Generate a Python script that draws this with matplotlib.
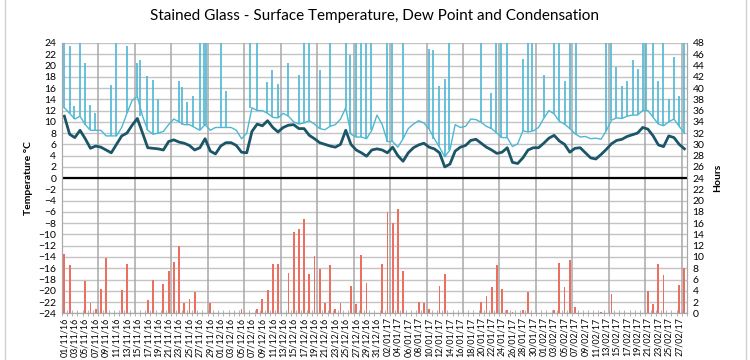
import numpy as np
import pandas as pd
import matplotlib
matplotlib.use("Agg")
import matplotlib.pyplot as plt

plt.rcParams['font.family'] = ['Lato', 'DejaVu Sans']

# =====================================================
# DATA
# =====================================================

dates = pd.date_range("2016-11-01", "2017-02-28", freq="D")

# surface temperature between the spikes, one value per day (deg C)
surface_base = [
    12.5, 11.5, 10.5, 11, 9.5, 8.5, 8.5, 8.5, 7.5, 7.5,
    7.5, 9, 11.5, 13.8, 14.5, 11, 8.5, 7.8, 8, 8.3,
    9.5, 10.5, 10, 9.5, 9.5, 9, 8.5, 9.5, 8.5, 9,
    9, 9, 9, 8.5, 7, 8, 12.5, 12, 12, 11.5,
    10.8, 10.7, 11.5, 11, 10, 9.6, 9.8, 10.2, 9.6, 8.8,
    8.6, 9.2, 9.5, 10.5, 12.5, 7.8, 7.3, 7.3, 7, 8.5,
    11.2, 9.5, 6.5, 6.5, 5.5, 7, 8.8, 9.6, 10.2, 9.8,
    8.7, 7, 5.5, 3.8, 5, 9.5, 9, 9.2, 10.5, 10.4,
    9.9, 9.2, 8.8, 8, 7.2, 7.2, 5.6, 6.1, 8.4, 8.2,
    8.4, 9, 10.6, 12, 11.4, 10.1, 9.6, 8.8, 7.9, 7.3,
    7.4, 7, 7.1, 6.9, 8.4, 10.3, 10.7, 10.6, 11, 11.2,
    11.2, 12, 12, 10.8, 9.6, 9.3, 10, 10.5, 9.2, 8,
]

# surface temperature spikes (day offset from 01/11/16, deg C); 40 = off scale
spike_day = [
    0.5, 1.5, 2.4, 3.5, 4.5, 5.4, 6.4, 9.5, 10.4, 12.5,
    14.5, 15.0, 16.3, 17.6, 18.5, 22.4, 23.0, 24.0, 25.2, 26.5,
    27.2, 27.7, 30.5, 31.6, 36.2, 37.4, 39.3, 40.4, 41.5, 43.4,
    45.5, 46.5, 47.5, 49.5, 51.4, 54.5, 55.4, 56.4, 57.5, 58.4,
    59.4, 62.4, 63.4, 65.5, 70.5, 71.2, 72.4, 73.5, 74.4, 80.5,
    82.4, 83.4, 84.3, 85.5, 88.5, 89.4, 90.3, 92.6, 94.5, 95.5,
    96.5, 97.6, 98.6, 104.5, 105.4, 106.4, 107.5, 108.5, 109.6, 110.6,
    111.5, 112.1, 113.5, 114.5, 115.4, 116.5, 117.5, 118.5, 119.5,
]
spike_temp = [
    40, 23.5, 12.8, 40, 20.4, 12.9, 11.5, 16.5, 40, 23.4,
    20.5, 21, 18.2, 17.5, 14, 17.3, 16.2, 13.5, 14.5, 40,
    40, 40, 40, 15.5, 40, 40, 17, 19.2, 16.7, 20.5,
    18.3, 40, 40, 19.2, 40, 40, 21.8, 40, 40, 40,
    40, 40, 40, 40, 23, 22.7, 16.4, 17.6, 40, 40,
    15.2, 40, 40, 40, 21.2, 40, 40, 18.3, 40, 40,
    17.3, 40, 40, 40, 40, 19.7, 16.4, 17.3, 21, 19.4,
    40, 40, 40, 17.3, 40, 14, 21.6, 14.6, 40,
]

# dew point, one value per day (deg C)
dew_point = [
    11, 7.8, 7.2, 8.5, 7, 5.3, 5.7, 5.5, 5, 4.5,
    6, 7.5, 8, 9.4, 10.6, 8, 5.4, 5.3, 5.2, 5,
    6.5, 6.8, 6.4, 6.2, 5.8, 5, 5.4, 7, 4.8, 4.3,
    5.7, 6.3, 6.3, 5.8, 4.6, 4.5, 8.3, 9.6, 9.3, 10.2,
    9, 8.2, 9, 9.4, 9.5, 8.8, 8.8, 7.6, 7, 6.3,
    6, 5.7, 5.5, 6, 8.5, 6, 5, 4.5, 3.9, 5,
    5.2, 5, 4.5, 5.5, 4, 3, 4.5, 5.4, 5.9, 6.2,
    5.5, 5.2, 4.5, 2, 2.5, 4.8, 5.5, 5.8, 6.7, 6.9,
    6.2, 5.5, 5, 4.4, 4.6, 5.4, 2.8, 2.6, 3.6, 5,
    5.4, 5.4, 6.2, 7.1, 7.6, 6.6, 6, 4.6, 5.3, 5.4,
    4.5, 3.6, 3.4, 4.2, 5.1, 6.1, 6.7, 6.9, 7.4, 7.7,
    8, 9, 8.7, 7.5, 5.9, 5.6, 7.5, 7.2, 6, 5.2,
]

# hours of condensation per day (right axis)
condensation_hours = [
    10.5, 8.5, 0, 0, 5.7, 1.8, 0.7, 4.3, 9.8, 0,
    0, 4.1, 8.8, 0, 0, 0, 2.3, 5.9, 0, 5.2,
    7.5, 9.1, 12, 1.8, 2.6, 3.8, 0, 0, 1.8, 0,
    0, 0, 0, 0, 0.7, 0, 0, 0.7, 2.6, 4.1,
    8.8, 8.8, 0, 7.2, 14.5, 14.9, 16.7, 7.0, 10.2, 7.8,
    1.8, 8.5, 0.7, 1.8, 0, 4.8, 1.6, 10.4, 5.3, 0,
    0, 8.8, 18, 16, 18.6, 7.5, 0, 0, 2.0, 1.8,
    0.8, 0, 4.8, 7.0, 0, 0, 0, 0, 0, 0,
    2.0, 3.0, 4.6, 8.5, 4.3, 0.5, 0.3, 0, 0.5, 3.7,
    0, 0, 0, 0, 0.5, 9.0, 4.6, 9.4, 1.1, 0,
    0, 0, 0, 0.3, 0, 3.5, 0, 0, 0, 0,
    0, 0, 4.0, 1.6, 8.7, 6.8, 0, 0, 5.0, 8.1,
]

# =====================================================
# BUILD SERIES
# =====================================================

days = np.arange(len(dates))
base = pd.Series(surface_base, index=days)

# each spike rises from that day's base level
spike_from = base.reindex(np.floor(spike_day).astype(int)).values

tick_pos = days[::2] + 0.5
tick_lab = dates[::2].strftime("%d/%m/%y")

# =====================================================
# PLOT
# =====================================================

fig = plt.figure(figsize=(7.5, 3.6), dpi=100)
ax = fig.add_axes([0.0824, 0.1297, 0.8336, 0.7509])
ax2 = ax.twinx()

# grid
for y in range(-24, 25, 2):
    ax.axhline(y, color="#C4C4C4", lw=1.0, zorder=0)
for x in range(7, 120, 7):
    ax.axvline(x, color="#A8A8A8", lw=1.1, zorder=0)
ax.axhline(0, color="black", lw=1.6, zorder=1)

ax.plot(days + 0.5, surface_base, color="#4DB8D3", lw=1.0, zorder=3)
ax.vlines(spike_day, spike_from, spike_temp, color="#4DB8D3", lw=1.2, zorder=3)
ax.plot(days + 0.5, dew_point, color="#1B5568", lw=2.0, zorder=4)

ax2.bar(days + 0.5, condensation_hours, width=0.35, color="#EC6F62", zorder=2)

ax.set_xlim(0, 120)
ax.set_ylim(-24, 24)
ax2.set_ylim(0, 48)
ax.set_yticks(range(-24, 25, 2))
ax2.set_yticks(range(0, 49, 2))

ax.set_xticks(tick_pos)
ax.set_xticklabels(tick_lab, rotation=90, fontsize=6.4)
ax.set_xticks(np.arange(0, 121), minor=True)
ax.tick_params(axis="x", which="major", length=0, pad=3)
ax.tick_params(axis="x", which="minor", length=4, direction="inout", color="#A6A6A6")
ax.tick_params(axis="y", length=0, labelsize=7.5, pad=4)
ax2.tick_params(axis="y", length=0, labelsize=7.5, pad=4)

for a in (ax, ax2):
    a.spines["top"].set_visible(False)
    for s in ("left", "right", "bottom"):
        a.spines[s].set_color("#A8A8A8")

ax.set_ylabel("Temperature °C", fontsize=7.5, fontweight="bold", labelpad=4)
ax2.set_ylabel("Hours", fontsize=7.5, fontweight="bold", labelpad=6)

fig.text(0.5, 0.955, "Stained Glass - Surface Temperature, Dew Point and Condensation",
         ha="center", va="center", fontsize=11)

# outer chart border
fig.add_artist(plt.Line2D([0.007, 0.007], [0, 1], color="#D0D0D0", lw=1))
fig.add_artist(plt.Line2D([0.995, 0.995], [0, 1], color="#D0D0D0", lw=1))

fig.savefig("out.png", dpi=100)
